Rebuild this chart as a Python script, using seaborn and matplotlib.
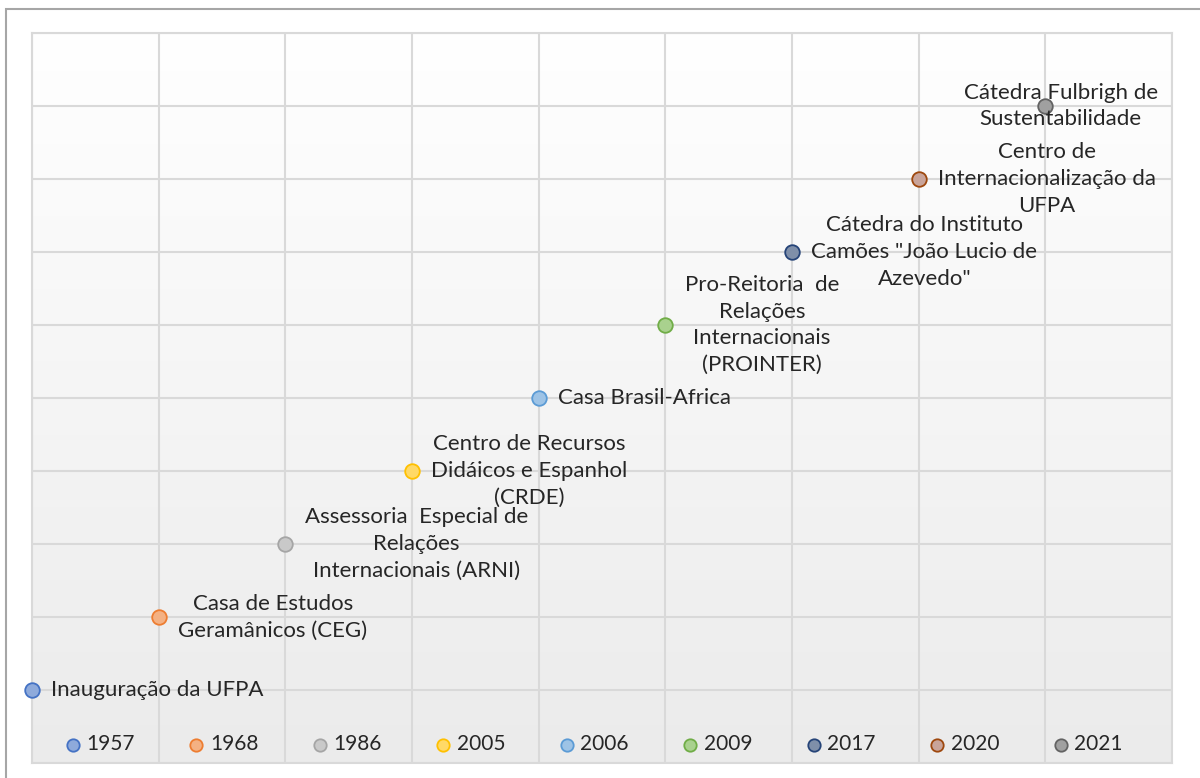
import numpy as np
import seaborn as sns
import matplotlib.pyplot as plt
from matplotlib.patches import Rectangle
from matplotlib.colors import LinearSegmentedColormap

sns.set_theme(style="white")
plt.rcParams['font.family'] = ['Lato', 'DejaVu Sans']

years = ['1957', '1968', '1986', '2005', '2006', '2009', '2017', '2020', '2021']
levels = [1, 2, 3, 4, 5, 6, 7, 8, 9]
events = [
    'Inauguração da UFPA',
    'Casa de Estudos\nGeramânicos (CEG)',
    'Assessoria  Especial de\nRelações\nInternacionais (ARNI)',
    'Centro de Recursos\nDidáicos e Espanhol\n(CRDE)',
    'Casa Brasil-Africa',
    'Pro-Reitoria  de\nRelações\nInternacionais\n(PROINTER)',
    'Cátedra do Instituto\nCamões "João Lucio de\nAzevedo"',
    'Centro de\nInternacionalização da\nUFPA',
    'Cátedra Fulbrigh de\nSustentabilidade',
]
fills = ['#8eaadb', '#f4b183', '#c9c9c9', '#ffd966', '#9dc3e6',
         '#a9d18e', '#7f8fa9', '#c9a49a', '#a0a0a0']
edges = ['#4472c4', '#ed7d31', '#a5a5a5', '#ffc000', '#5b9bd5',
         '#70ad47', '#264478', '#9e480e', '#636363']

fig = plt.figure(figsize=(12, 7.78), dpi=100)
ax = fig.add_axes([32 / 1200, 1 - 763 / 778, 1140 / 1200, 730 / 778])

# soft vertical gradient like the original chart background
grad = np.linspace(0, 1, 256).reshape(-1, 1)
bg = LinearSegmentedColormap.from_list('bg', ['#ebebeb', '#ffffff'])
ax.imshow(grad, extent=[0, 9, 0, 10], aspect='auto', cmap=bg,
          origin='lower', zorder=0)

for i, (yr, lvl, fc, ec) in enumerate(zip(years, levels, fills, edges)):
    sns.scatterplot(x=[i], y=[lvl], ax=ax, s=110, color=fc, edgecolor=ec,
                    linewidth=1.3, label=yr, zorder=3, clip_on=False)

for i, (lvl, txt) in enumerate(zip(levels, events)):
    last = i == len(events) - 1
    # Excel pushed the last label back inside the chart area
    ax.annotate(txt, (i, lvl), xytext=(11 if last else 14, 0),
                textcoords='offset points',
                ha='center' if last else 'left', va='center',
                multialignment='center', fontsize=16, color='#262626',
                linespacing=1.42, zorder=4)

ax.set_xlim(0, 9)
ax.set_ylim(0, 10)
ax.set_xticks(range(10))
ax.set_yticks(range(11))
ax.set_xticklabels([])
ax.set_yticklabels([])
ax.tick_params(length=0)
ax.grid(True, color='#d9d9d9', lw=1.5, zorder=1)
ax.set_axisbelow(True)
for s in ax.spines.values():
    s.set_color('#d9d9d9')
    s.set_linewidth(1.5)
ax.set_xlabel('')
ax.set_ylabel('')

ax.legend(loc='center', bbox_to_anchor=(0.493, 0.026), ncol=9, frameon=False,
          fontsize=15, handlelength=0.7, handletextpad=0.3,
          columnspacing=2.6, markerscale=0.85, borderaxespad=0,
          labelcolor='#262626')

fig.add_artist(Rectangle((6 / 1200, -0.1), 1.1, 1 - 9 / 778 + 0.1,
                         transform=fig.transFigure, fill=False,
                         edgecolor='#a6a6a6', lw=1.5))

fig.savefig('out.png', dpi=100)
